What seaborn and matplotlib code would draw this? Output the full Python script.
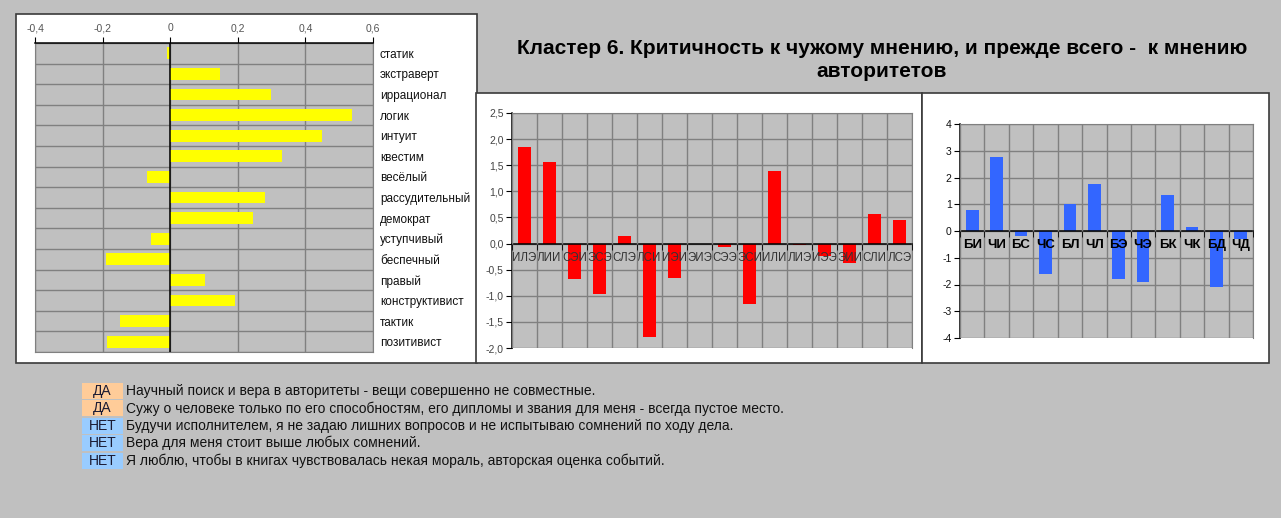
import matplotlib
matplotlib.use("Agg")
import matplotlib.pyplot as plt
import seaborn as sns
import numpy as np
from matplotlib.patches import Rectangle

# ---------------- data ----------------
traits = ["статик", "экстраверт", "иррационал", "логик", "интуит", "квестим",
          "весёлый", "рассудительный", "демократ", "уступчивый", "беспечный",
          "правый", "конструктивист", "тактик", "позитивист"]
trait_values = [-0.01, 0.147, 0.297, 0.538, 0.449, 0.331, -0.069, 0.28, 0.246,
                -0.057, -0.191, 0.104, 0.191, -0.148, -0.187]
trait_ticks = [-0.4, -0.2, 0.0, 0.2, 0.4, 0.6]
trait_tick_labels = ["-0,4", "-0,2", "0", "0,2", "0,4", "0,6"]

types = ["ИЛЭ", "ЛИИ", "СЭИ", "ЭСЭ", "СЛЭ", "ЛСИ", "ИЭИ", "ЭИЭ", "СЭЭ", "ЭСИ",
         "ИЛИ", "ЛИЭ", "ИЭЭ", "ЭИИ", "СЛИ", "ЛСЭ"]
type_values = [1.85, 1.56, -0.67, -0.97, 0.15, -1.79, -0.66, 0.0, -0.06, -1.15,
               1.39, -0.03, -0.24, -0.37, 0.57, 0.45]
type_ticks = [-2.0, -1.5, -1.0, -0.5, 0.0, 0.5, 1.0, 1.5, 2.0, 2.5]
type_tick_labels = ["-2,0", "-1,5", "-1,0", "-0,5", "0,0", "0,5", "1,0", "1,5", "2,0", "2,5"]

aspects = ["БИ", "ЧИ", "БС", "ЧС", "БЛ", "ЧЛ", "БЭ", "ЧЭ", "БК", "ЧК", "БД", "ЧД"]
aspect_values = [0.8, 2.75, -0.2, -1.6, 1.0, 1.74, -1.8, -1.9, 1.33, 0.16, -2.1, -0.3]
aspect_ticks = [-4, -3, -2, -1, 0, 1, 2, 3, 4]

title_text = "Кластер 6. Критичность к чужому мнению, и прежде всего -  к мнению\nавторитетов"
answers = ["ДА", "ДА", "НЕТ", "НЕТ", "НЕТ"]
statements = [
    "Научный поиск и вера в авторитеты - вещи совершенно не совместные.",
    "Сужу о человеке только по его способностям, его дипломы и звания для меня - всегда пустое место.",
    "Будучи исполнителем, я не задаю лишних вопросов и не испытываю сомнений по ходу дела.",
    "Вера для меня стоит выше любых сомнений.",
    "Я люблю, чтобы в книгах чувствовалась некая мораль, авторская оценка событий.",
]
answer_colors = {"ДА": "#ffcc99", "НЕТ": "#99ccff"}

# ---------------- layout helpers ----------------
W, H = 1281, 518
plt.rcParams["font.family"] = ["Liberation Sans", "DejaVu Sans"]
BG = "#c0c0c0"
GRID = "#808080"

fig = plt.figure(figsize=(W / 100, H / 100), dpi=100, facecolor=BG)


def frect(x0, y0, x1, y1):
    return [x0 / W, 1 - y1 / H, (x1 - x0) / W, (y1 - y0) / H]


def white_box(x0, y0, x1, y1):
    r = Rectangle((x0 / W, 1 - y1 / H), (x1 - x0) / W, (y1 - y0) / H,
                  transform=fig.transFigure, facecolor="white",
                  edgecolor="#3a3a3a", lw=1.2, zorder=-5)
    fig.patches.append(r)


white_box(16, 14, 477, 363)
white_box(476, 93, 922, 363)
white_box(922, 93, 1269, 363)

# ---------------- panel 1: traits ----------------
ax1 = fig.add_axes(frect(35, 43, 373, 352))
ax1.set_facecolor(BG)
sns.barplot(x=trait_values, y=traits, orient="h", color="#ffff00",
            saturation=1, width=0.57, ax=ax1)
ax1.set_axisbelow(True)
ax1.set_xlim(-0.4, 0.6)
ax1.set_ylim(len(traits) - 0.5, -0.5)
ax1.xaxis.tick_top()
ax1.set_xticks(trait_ticks)
ax1.set_xticklabels(trait_tick_labels, fontsize=7.5, color="#555555")
ax1.tick_params(axis="x", which="major", direction="out", length=4,
                color="black", pad=3)
ax1.yaxis.tick_right()
ax1.set_yticks(range(len(traits)))
ax1.set_yticklabels(traits, fontsize=8.5, color="#111111")
ax1.tick_params(axis="y", which="major", length=0, pad=5)
ax1.set_yticks(np.arange(-0.5, len(traits), 1), minor=True)
ax1.tick_params(axis="y", which="minor", length=0)
ax1.grid(which="major", axis="x", color=GRID, lw=1)
ax1.grid(which="minor", axis="y", color=GRID, lw=1)
ax1.grid(which="major", axis="y", visible=False)
ax1.axvline(0, color="black", lw=1.1, zorder=3)
for s in ["left", "right", "bottom"]:
    ax1.spines[s].set_color(GRID)
ax1.spines["top"].set_color("black")
ax1.spines["top"].set_linewidth(1.1)
ax1.set_xlabel("")
ax1.set_ylabel("")


def column_panel(ax, cats, vals, color, width, ticks, ticklabels, ylim,
                 ylab_color, xlab_kw, label_pad):
    ax.set_facecolor(BG)
    sns.barplot(x=cats, y=vals, color=color, saturation=1, width=width, ax=ax)
    # move the category axis onto the zero line first (this resets x ticks)
    ax.spines["bottom"].set_position(("data", 0))
    ax.set_axisbelow(True)
    ax.set_xlim(-0.5, len(cats) - 0.5)
    ax.set_ylim(*ylim)
    ax.set_yticks(ticks)
    ax.set_yticklabels(ticklabels, fontsize=7.5, color=ylab_color)
    ax.tick_params(axis="y", direction="out", length=4, color="black", pad=2)
    ax.set_xticks(range(len(cats)))
    ax.tick_params(axis="x", which="major", length=0, pad=label_pad)
    ax.set_xticklabels(cats, **xlab_kw)
    ax.set_xticks(np.arange(-0.5, len(cats), 1), minor=True)
    ax.tick_params(axis="x", which="minor", direction="out", length=4,
                   color="black")
    ax.grid(which="major", axis="y", color=GRID, lw=1)
    ax.grid(which="minor", axis="x", color=GRID, lw=1)
    ax.grid(which="major", axis="x", visible=False)
    ax.xaxis.set_zorder(5)
    ax.spines["bottom"].set_color("black")
    ax.spines["bottom"].set_linewidth(1.1)
    ax.spines["left"].set_color("black")
    ax.spines["left"].set_linewidth(1.1)
    ax.spines["top"].set_color(GRID)
    ax.spines["right"].set_color(GRID)
    ax.set_xlabel("")
    ax.set_ylabel("")


# ---------------- panel 2: types ----------------
ax2 = fig.add_axes(frect(512, 113, 912, 348))
column_panel(ax2, types, type_values, "#ff0000", 0.5, type_ticks,
             type_tick_labels, (-2.0, 2.5), "#444444",
             dict(fontsize=8.3, color="#333333"), 6)

# ---------------- panel 3: aspects ----------------
ax3 = fig.add_axes(frect(960, 124, 1253, 338))
column_panel(ax3, aspects, aspect_values, "#3366ff", 0.52, aspect_ticks,
             [str(t) for t in aspect_ticks], (-4, 4), "#111111",
             dict(fontsize=9.5, color="black", fontweight="bold"), 6)

# ---------------- title ----------------
fig.text(882 / W, 1 - 60 / H, title_text, ha="center", va="center",
         fontsize=15, fontweight="bold", color="black", linespacing=1.3)

# ---------------- statements ----------------
for i, (ans, st) in enumerate(zip(answers, statements)):
    yc = 391 + i * 17.4
    fig.patches.append(Rectangle((82 / W, 1 - (yc + 8) / H), 41 / W, 16 / H,
                                 transform=fig.transFigure,
                                 facecolor=answer_colors[ans], edgecolor="none",
                                 zorder=-4))
    fig.text(102.5 / W, 1 - yc / H, ans, ha="center", va="center",
             fontsize=10, color="#1a1a33")
    fig.text(126 / W, 1 - yc / H, st, ha="left", va="center",
             fontsize=10, color="#111111")

fig.savefig("out.png", dpi=100, facecolor=BG)
